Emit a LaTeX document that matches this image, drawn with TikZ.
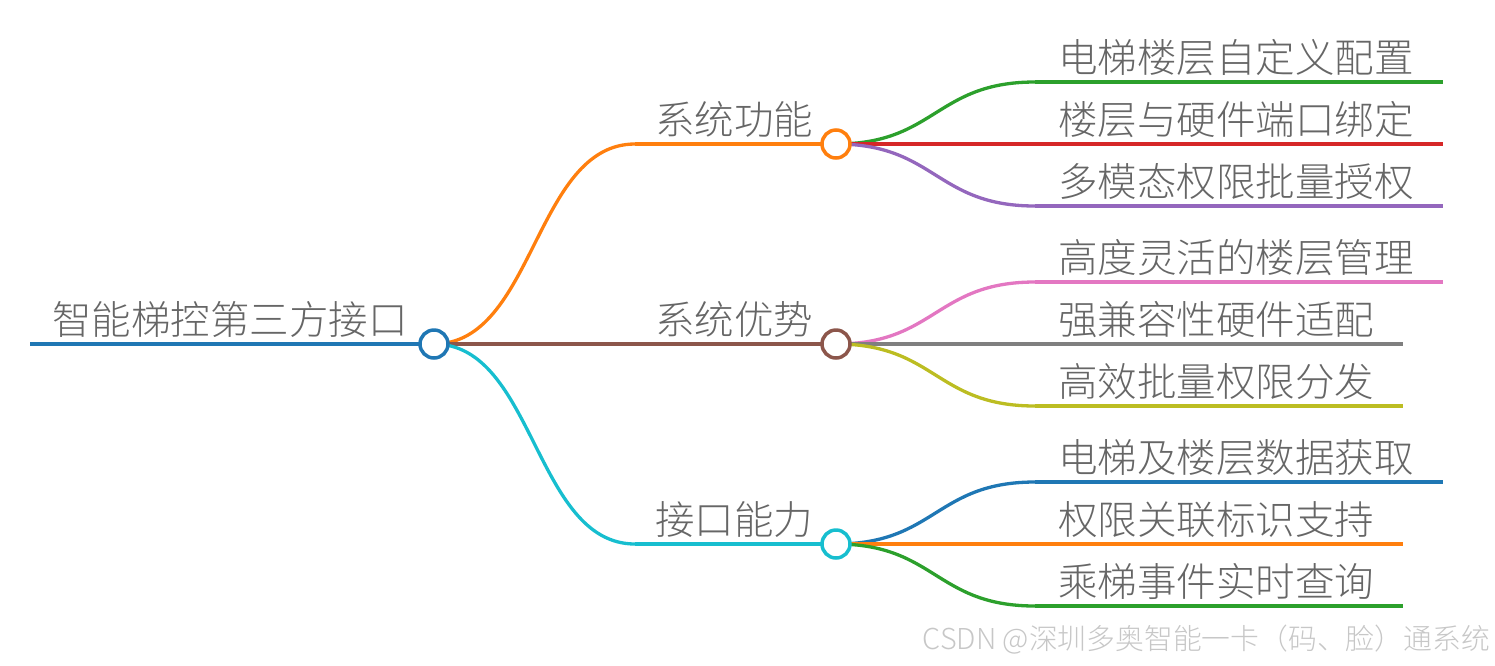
\documentclass[tikz,border=0pt]{standalone}
\usepackage{fontspec}
\setmainfont{Noto Sans CJK SC}[UprightFont={* Light}]
\usepackage{xcolor}
\usepackage{tikz}
\usetikzlibrary{calc}

\definecolor{cblue}{HTML}{1F77B4}
\definecolor{corange}{HTML}{FF7F0E}
\definecolor{cgreen}{HTML}{2CA02C}
\definecolor{cred}{HTML}{D62728}
\definecolor{cpurple}{HTML}{9467BD}
\definecolor{cbrown}{HTML}{8C564B}
\definecolor{cpink}{HTML}{E377C2}
\definecolor{cgray}{HTML}{7F7F7F}
\definecolor{colive}{HTML}{BCBD22}
\definecolor{ccyan}{HTML}{17BECF}
\definecolor{txtgray}{HTML}{666666}

% s-curve from one node to another (mid-x control points)
\newcommand{\mmlink}[3]{\draw[link, #1] (#2) .. controls ($(#2)!.5!(#2 -| #3)$) and ($(#3 -| #2)!.5!(#3)$) .. (#3);}

\begin{document}
\begin{tikzpicture}[x=1pt, y=-1pt,
        dot/.style={circle, draw, line width=3.5pt, fill=white, minimum size=28pt, inner sep=0pt},
        lbl/.style={anchor=base west, inner sep=0pt, text=txtgray, font=\fontsize{39.5}{40}\selectfont},
        link/.style={line width=3.3pt},
        wmark/.style={anchor=base east, inner sep=0pt, text=black!22, font=\fontsize{28.8}{29}\selectfont}
    ]
        \useasboundingbox (0,0) rectangle (1495,665);

        % root
        \coordinate (r0) at (30,344);
        \coordinate (rc) at (434,344);
        % branches
        \coordinate (b1) at (635,144);  \coordinate (b1c) at (836,144);
        \coordinate (b2) at (635,344);  \coordinate (b2c) at (836,344);
        \coordinate (b3) at (635,544);  \coordinate (b3c) at (836,544);
        % leaves
        \coordinate (l1) at (1035,82);   \coordinate (l1e) at (1443,82);
        \coordinate (l2) at (1035,144);  \coordinate (l2e) at (1443,144);
        \coordinate (l3) at (1035,206);  \coordinate (l3e) at (1443,206);
        \coordinate (l4) at (1035,282);  \coordinate (l4e) at (1443,282);
        \coordinate (l5) at (1035,344);  \coordinate (l5e) at (1403,344);
        \coordinate (l6) at (1035,406);  \coordinate (l6e) at (1403,406);
        \coordinate (l7) at (1035,482);  \coordinate (l7e) at (1443,482);
        \coordinate (l8) at (1035,544);  \coordinate (l8e) at (1403,544);
        \coordinate (l9) at (1035,606);  \coordinate (l9e) at (1403,606);

        \draw[link, line width=4.5pt, cblue] (r0) -- (rc);

        \mmlink{corange}{rc}{b1}
        \mmlink{cbrown}{rc}{b2}
        \mmlink{ccyan}{rc}{b3}
        \draw[link, corange] (b1) -- (b1c);
        \draw[link, cbrown] (b2) -- (b2c);
        \draw[link, ccyan] (b3) -- (b3c);

        \mmlink{cgreen}{b1c}{l1}
        \mmlink{cred}{b1c}{l2}
        \mmlink{cpurple}{b1c}{l3}
        \mmlink{cpink}{b2c}{l4}
        \mmlink{cgray}{b2c}{l5}
        \mmlink{colive}{b2c}{l6}
        \mmlink{cblue}{b3c}{l7}
        \mmlink{corange}{b3c}{l8}
        \mmlink{cgreen}{b3c}{l9}
        \draw[link, cgreen] (l1) -- (l1e);
        \draw[link, cred] (l2) -- (l2e);
        \draw[link, cpurple] (l3) -- (l3e);
        \draw[link, cpink] (l4) -- (l4e);
        \draw[link, cgray] (l5) -- (l5e);
        \draw[link, colive] (l6) -- (l6e);
        \draw[link, cblue] (l7) -- (l7e);
        \draw[link, corange] (l8) -- (l8e);
        \draw[link, cgreen] (l9) -- (l9e);

        \node[dot, draw=cblue] (root) at (rc) {};
        \node[dot, draw=corange] (func) at (b1c) {};
        \node[dot, draw=cbrown] (adv) at (b2c) {};
        \node[dot, draw=ccyan] (iface) at (b3c) {};

        \node[lbl] (roottxt) at ($(r0)+(22,-10)$) {智能梯控第三方接口};
        \node[lbl] (functxt) at ($(b1)+(20,-10)$) {系统功能};
        \node[lbl] (advtxt) at ($(b2)+(20,-10)$) {系统优势};
        \node[lbl] (ifacetxt) at ($(b3)+(20,-10)$) {接口能力};

        \node[lbl] (t1) at ($(l1)+(23,-10)$) {电梯楼层自定义配置};
        \node[lbl] (t2) at ($(l2)+(23,-10)$) {楼层与硬件端口绑定};
        \node[lbl] (t3) at ($(l3)+(23,-10)$) {多模态权限批量授权};
        \node[lbl] (t4) at ($(l4)+(23,-10)$) {高度灵活的楼层管理};
        \node[lbl] (t5) at ($(l5)+(23,-10)$) {强兼容性硬件适配};
        \node[lbl] (t6) at ($(l6)+(23,-10)$) {高效批量权限分发};
        \node[lbl] (t7) at ($(l7)+(23,-10)$) {电梯及楼层数据获取};
        \node[lbl] (t8) at ($(l8)+(23,-10)$) {权限关联标识支持};
        \node[lbl] (t9) at ($(l9)+(23,-10)$) {乘梯事件实时查询};

        \node[wmark] (wm) at (1490,649) {CSDN @深圳多奥智能一卡（码、脸）通系统};
    \end{tikzpicture}
\end{document}
